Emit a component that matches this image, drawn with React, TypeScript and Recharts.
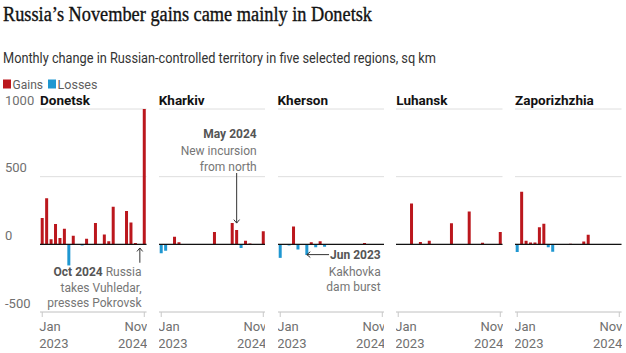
import React from "react";
import { BarChart, Bar, XAxis, YAxis, CartesianGrid, ReferenceLine, Cell } from "recharts";

// Monthly periods (change measured for each month), Dec 2022 .. Nov 2024
const periods = [
  "2022-12", "2023-01", "2023-02", "2023-03", "2023-04", "2023-05", "2023-06", "2023-07",
  "2023-08", "2023-09", "2023-10", "2023-11", "2023-12", "2024-01", "2024-02", "2024-03",
  "2024-04", "2024-05", "2024-06", "2024-07", "2024-08", "2024-09", "2024-10", "2024-11",
];
const firstTickLabel = ["Jan", "2023"];
const lastTickLabel = ["Nov", "2024"];
const yTicks = [-500, 0, 500, 1000];

const donetsk = [195, 340, 37, 150, 47, 116, -156, 64, 0, -8, 42, 0, 158, 0, 72, 22, 277, 0, 0, 247, 161, 10, 0, 1000];
const kharkiv = [-66, -47, 0, 56, 15, 0, 0, 0, 0, 0, 0, 0, 92, 0, 0, 0, 157, 106, -27, 27, 7, 0, 0, 97];
const kherson = [-100, 0, -8, 132, -38, -5, -78, 15, -22, 22, -17, 0, 0, 0, 0, 0, 0, 0, 0, 10, 0, 0, 0, 0];
const luhansk = [-4, -3, 0, 302, 0, 18, 0, 27, 0, 0, 0, 0, 156, 0, 0, 0, 243, 0, -3, 12, 0, 0, 0, 92];
const zaporizhzhia = [-57, 388, 27, 14, 14, 126, 152, -22, -54, -5, 0, -3, 4, 0, 0, 21, 70, 0, 0, 0, 0, 0, 0, 0];

const regionNames = ["Donetsk", "Kharkiv", "Kherson", "Luhansk", "Zaporizhzhia"];
const regionValues = [donetsk, kharkiv, kherson, luhansk, zaporizhzhia];

const GAIN = "#bb171d";
const LOSS = "#1f97d1";
const SANS = "Roboto, 'Noto Sans', sans-serif";

const PANEL_W = 106.5;
const PANEL_PITCH = 118.75;
const FIRST_LEFT = 40;
const AXIS_W = 40;
const CHART_TOP = 80;

const XTick = (props: any) => {
  const { x, y, payload } = props;
  const isFirst = payload.value === periods[0];
  const lab = isFirst ? firstTickLabel : lastTickLabel;
  const tx = isFirst ? x - 3 : x + 3;
  return (
    <text x={tx} y={y} textAnchor={isFirst ? "start" : "end"} fill="#707070" fontSize={13} fontFamily={SANS}>
      <tspan x={tx} dy={12}>{lab[0]}</tspan>
      <tspan x={tx} dy={17}>{lab[1]}</tspan>
    </text>
  );
};

const YTick = (props: any) => {
  const { y, payload } = props;
  return (
    <text x={5} y={y - 4.5} textAnchor="start" fill="#707070" fontSize={13} fontFamily={SANS}>
      {String(payload.value)}
    </text>
  );
};

const arrowShape = (props: any) => {
  const { x1, y1, x2, y2 } = props;
  const ang = Math.atan2(y2 - y1, x2 - x1);
  const s = 4.5;
  const a1 = ang + Math.PI * 0.78;
  const a2 = ang - Math.PI * 0.78;
  return (
    <g>
      <line x1={x1} y1={y1} x2={x2} y2={y2} stroke="#333" strokeWidth={1} />
      <path
        d={`M${x2 + s * Math.cos(a1)},${y2 + s * Math.sin(a1)}L${x2},${y2}L${x2 + s * Math.cos(a2)},${y2 + s * Math.sin(a2)}`}
        fill="none"
        stroke="#333"
        strokeWidth={1}
      />
    </g>
  );
};

const arrows: Record<string, { from: [string, number]; to: [string, number] }> = {
  Donetsk: { from: ["2024-10", -136], to: ["2024-10", -27] },
  Kharkiv: { from: ["2024-05", 527], to: ["2024-05", 157] },
  Kherson: { from: ["2023-11", -76], to: ["2023-06", -76] },
};

function Panel({ name, values, index }: { name: string; values: number[]; index: number }) {
  const withAxis = index === 0;
  const data = periods.map((p, i) => ({ period: p, value: values[i] }));
  const left = withAxis ? 0 : FIRST_LEFT + index * PANEL_PITCH;
  const width = withAxis ? FIRST_LEFT + PANEL_W : PANEL_W;
  const arrow = arrows[name];
  return (
    <div style={{ position: "absolute", left, top: CHART_TOP }}>
      <BarChart
        width={width}
        height={273}
        data={data}
        margin={{ top: 29, right: 0, bottom: 0, left: 0 }}
        barCategoryGap="16%"
      >
        <CartesianGrid vertical={false} stroke="#dedede" />
        <XAxis
          dataKey="period"
          ticks={[periods[0], periods[periods.length - 1]]}
          interval={0}
          height={41}
          tickSize={5}
          tickMargin={2}
          tickLine={{ stroke: "#c8c8c8" }}
          axisLine={{ stroke: "#d0d0d0" }}
          tick={<XTick />}
        />
        <YAxis
          type="number"
          domain={[-500, 1000]}
          ticks={yTicks}
          hide={!withAxis}
          width={withAxis ? AXIS_W : 0}
          axisLine={false}
          tickLine={false}
          tick={<YTick />}
          allowDataOverflow
        />
        <Bar dataKey="value" isAnimationActive={false}>
          {data.map((d, i) => (
            <Cell key={i} fill={d.value >= 0 ? GAIN : LOSS} />
          ))}
        </Bar>
        <ReferenceLine y={0} stroke="#121212" strokeWidth={1.2} />
        {arrow && (
          <ReferenceLine
            segment={[
              { x: arrow.from[0], y: arrow.from[1] },
              { x: arrow.to[0], y: arrow.to[1] },
            ]}
            shape={arrowShape}
          />
        )}
      </BarChart>
    </div>
  );
}

export default function App() {
  return (
    <div style={{ position: "absolute", left: 0, top: 0, width: 626, height: 353, background: "#fff", overflow: "hidden" }}>
      {regionNames.map((n, i) => (
        <Panel key={n} name={n} values={regionValues[i]} index={i} />
      ))}
      <svg width={626} height={353} style={{ position: "absolute", left: 0, top: 0, pointerEvents: "none" }}>
        <text
          x={3}
          y={21}
          fontFamily="'Liberation Serif', serif"
          fontSize={20}
          fill="#121212"
          stroke="#121212"
          strokeWidth={0.35}
          textLength={369}
          lengthAdjust="spacingAndGlyphs"
        >
          Russia’s November gains came mainly in Donetsk
        </text>
        <text x={3} y={62.5} fontFamily={SANS} fontSize={15.5} fill="#333" textLength={433} lengthAdjust="spacingAndGlyphs">
          Monthly change in Russian-controlled territory in five selected regions, sq km
        </text>
        {/* legend */}
        <rect x={3} y={79.5} width={8} height={9} fill={GAIN} />
        <text x={12.5} y={88.5} fontFamily={SANS} fontSize={12.5} fill="#606060" textLength={30.5} lengthAdjust="spacingAndGlyphs">Gains</text>
        <rect x={48} y={79.5} width={8} height={9} fill={LOSS} />
        <text x={57.5} y={88.5} fontFamily={SANS} fontSize={12.5} fill="#606060" textLength={40} lengthAdjust="spacingAndGlyphs">Losses</text>
        {/* panel titles */}
        {regionNames.map((n, i) => (
          <text key={n} x={FIRST_LEFT + i * PANEL_PITCH} y={104.8} fontFamily={SANS} fontSize={13.5} fontWeight={700} fill="#121212">
            {n}
          </text>
        ))}
        {/* annotations */}
        <g fontFamily={SANS} fontSize={12} fill="#767676" textAnchor="end">
          <text x={141.5} y={275.5}>
            <tspan fontWeight={700} fill="#555">Oct 2024</tspan> Russia
          </text>
          <text x={141.5} y={291.5}>takes Vuhledar,</text>
          <text x={141.5} y={306.5}>presses Pokrovsk</text>
          <text x={256.7} y={138}>
            <tspan fontWeight={700} fill="#555">May 2024</tspan>
          </text>
          <text x={256.7} y={154.5}>New incursion</text>
          <text x={256.7} y={170.5}>from north</text>
          <text x={380.7} y={258.5}>
            <tspan fontWeight={700} fill="#555">Jun 2023</tspan>
          </text>
          <text x={380.7} y={275.5}>Kakhovka</text>
          <text x={380.7} y={291}>dam burst</text>
        </g>
      </svg>
    </div>
  );
}
